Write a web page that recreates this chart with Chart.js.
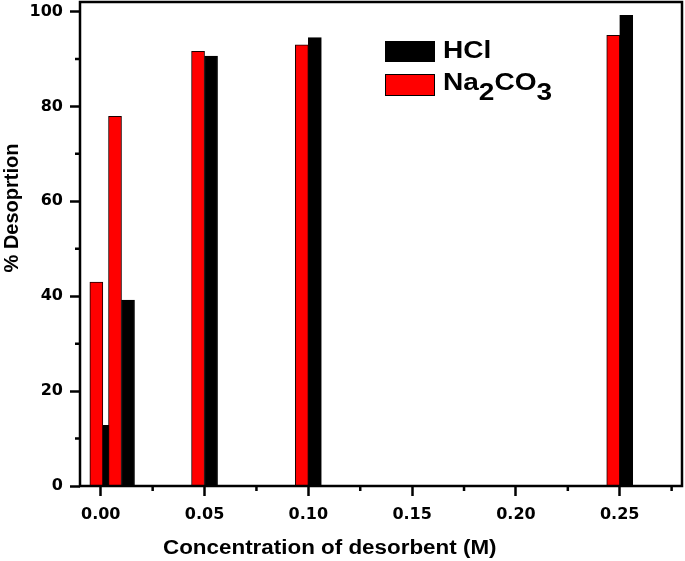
<!DOCTYPE html>
<html>
<head>
<meta charset="utf-8">
<script src="https://cdn.jsdelivr.net/npm/chart.js@4/dist/chart.umd.min.js"></script>
<style>
  html, body { margin: 0; padding: 0; background: #fff; }
  canvas { display: block; }
</style>
</head>
<body>
<canvas id="desorptionChart" width="685" height="561"></canvas>
<script>
// concentration of desorbent (M) and % desorption
const concentrations = [0.001, 0.01, 0.05, 0.10, 0.25];
const na2co3Values = [43.0, 77.9, 91.6, 93.0, 95.0];
const hclValues = [12.8, 39.2, 90.6, 94.5, 99.2];

const xMajorTicks = [0, 0.05, 0.10, 0.15, 0.20, 0.25];
const xMinorTicks = [0.025, 0.075, 0.125, 0.175, 0.225, 0.275];
const yMajorTicks = [0, 20, 40, 60, 80, 100];
const yMinorTicks = [10, 30, 50, 70, 90];

const xTitle = 'Concentration of desorbent (M)';
const yTitle = '% Desoprtion';

const toPoints = vals => vals.map((v, i) => ({ x: concentrations[i], y: v }));

const tickFont = { family: 'DejaVu Sans', size: 16, weight: 'bold' };
const textFont = '"Liberation Sans", Arial, sans-serif';

// frame, minor ticks, axis titles and the legend (Origin style)
const originDecor = {
    id: 'originDecor',
    afterDraw(chart) {
        const ctx = chart.ctx;
        const a = chart.chartArea;
        const xs = chart.scales.x, ys = chart.scales.y;
        ctx.save();
        ctx.strokeStyle = '#000';
        ctx.lineWidth = 2.5;
        ctx.strokeRect(a.left, a.top, a.right - a.left, a.bottom - a.top);

        // minor ticks
        ctx.beginPath();
        xMinorTicks.forEach(v => {
            const px = xs.getPixelForValue(v);
            ctx.moveTo(px, a.bottom);
            ctx.lineTo(px, a.bottom + 5);
        });
        yMinorTicks.forEach(v => {
            const py = ys.getPixelForValue(v);
            ctx.moveTo(a.left - 5, py);
            ctx.lineTo(a.left, py);
        });
        ctx.stroke();

        ctx.fillStyle = '#000';
        // x title
        ctx.save();
        ctx.font = 'bold 20px ' + textFont;
        ctx.textAlign = 'left';
        ctx.textBaseline = 'alphabetic';
        ctx.translate(163, 553.5);
        ctx.scale(1.12, 1);
        ctx.fillText(xTitle, 0, 0);
        ctx.restore();

        // y title
        ctx.save();
        ctx.font = 'bold 20px ' + textFont;
        ctx.textAlign = 'center';
        ctx.textBaseline = 'alphabetic';
        ctx.translate(17.5, 208);
        ctx.rotate(-Math.PI / 2);
        ctx.fillText(yTitle, 0, 0);
        ctx.restore();

        // legend
        ctx.lineWidth = 1;
        ctx.fillStyle = '#000';
        ctx.fillRect(385, 41, 50, 21);
        ctx.fillStyle = '#ff0000';
        ctx.fillRect(385, 74, 50, 22);
        ctx.strokeRect(385.5, 74.5, 49, 21);

        ctx.fillStyle = '#000';
        ctx.font = 'bold 23px ' + textFont;
        ctx.textAlign = 'left';
        ctx.textBaseline = 'alphabetic';
        ctx.save();
        ctx.translate(443, 57.5);
        ctx.scale(1.22, 1);
        ctx.fillText('HCl', 0, 0);
        ctx.restore();

        // Na2CO3 with subscripts
        ctx.save();
        ctx.translate(443, 90);
        ctx.scale(1.22, 1);
        let cx = 0;
        [['Na', 0], ['2', 9.5], ['CO', 0], ['3', 9.5]].forEach(([t, dy]) => {
            ctx.fillText(t, cx, dy);
            cx += ctx.measureText(t).width;
        });
        ctx.restore();
        ctx.restore();
    }
};

new Chart(document.getElementById('desorptionChart'), {
    type: 'bar',
    data: {
        datasets: [{
            label: 'Na2CO3',
            data: toPoints(na2co3Values),
            backgroundColor: '#ff0000',
            borderColor: '#1a0000',
            borderWidth: 1
        }, {
            label: 'HCl',
            data: toPoints(hclValues),
            backgroundColor: '#000000',
            borderColor: '#000000',
            borderWidth: 1
        }]
    },
    options: {
        responsive: false,
        animation: false,
        barThickness: 13,
        layout: { padding: { top: 2, right: 3, left: 0, bottom: 0 } },
        plugins: {
            legend: { display: false },
            tooltip: { enabled: false }
        },
        scales: {
            x: {
                type: 'linear',
                min: -0.01,
                max: 0.28,
                offset: false,
                border: { display: false },
                grid: {
                    offset: false,
                    drawOnChartArea: false,
                    tickLength: 10,
                    tickWidth: 2.5,
                    tickColor: '#000'
                },
                ticks: {
                    color: '#000',
                    font: tickFont,
                    padding: 9,
                    maxRotation: 0,
                    callback: v => v.toFixed(2)
                },
                afterBuildTicks: scale => {
                    scale.ticks = xMajorTicks.map(v => ({ value: v }));
                },
                afterFit: scale => {
                    scale.height = 75;
                    scale.paddingLeft = 0;
                    scale.paddingRight = 0;
                }
            },
            y: {
                min: 0,
                max: 102,
                border: { display: false },
                grid: {
                    drawOnChartArea: false,
                    tickLength: 10,
                    tickWidth: 2.5,
                    tickColor: '#000'
                },
                ticks: {
                    color: '#000',
                    font: tickFont,
                    padding: 7
                },
                afterBuildTicks: scale => {
                    scale.ticks = yMajorTicks.map(v => ({ value: v }));
                },
                afterFit: scale => {
                    scale.width = 80;
                    scale.paddingTop = 0;
                    scale.paddingBottom = 0;
                }
            }
        }
    },
    plugins: [originDecor]
});
</script>
</body>
</html>
